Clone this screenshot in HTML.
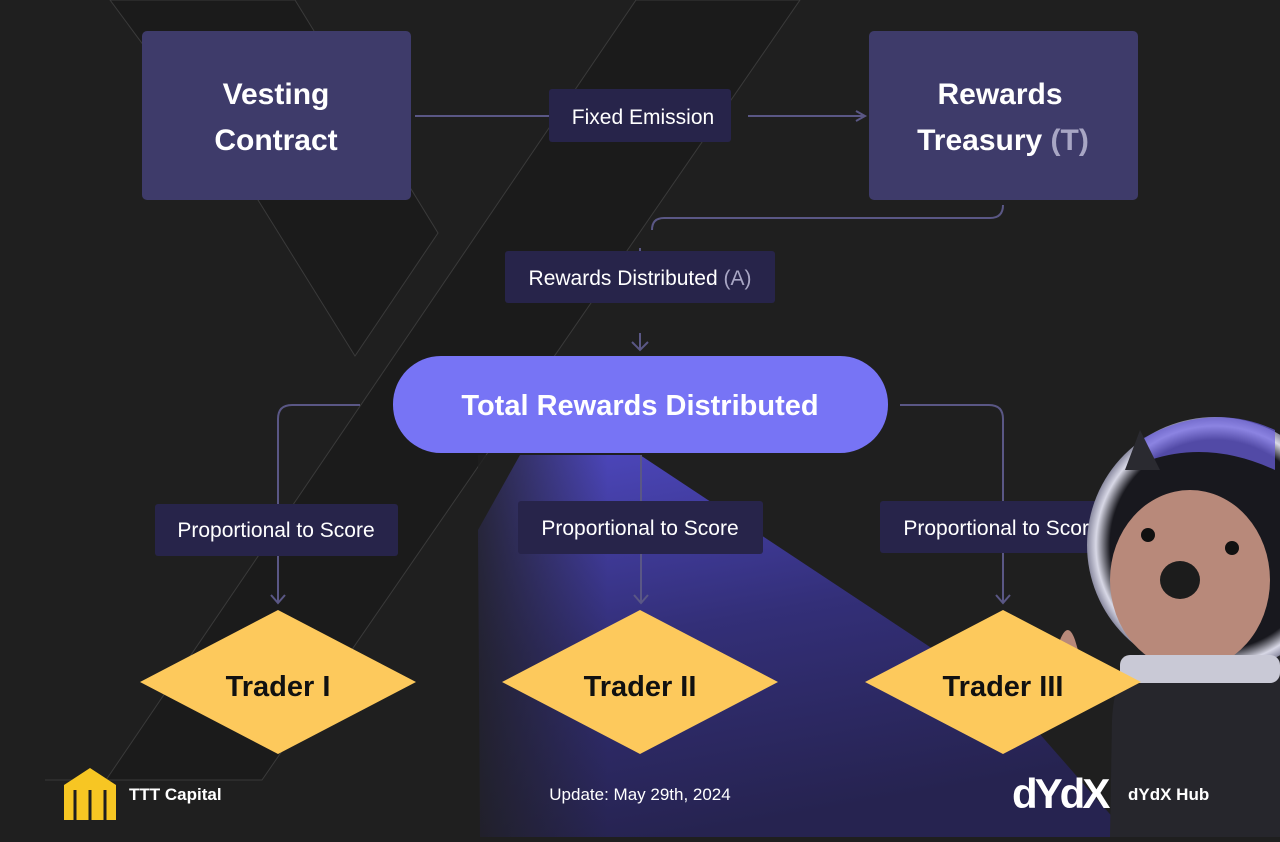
<!DOCTYPE html>
<html><head><meta charset="utf-8"><style>
body{margin:0;background:#1f1f1f;width:1280px;height:837px;overflow:hidden;font-family:"Liberation Sans",sans-serif}
svg text{font-family:"Liberation Sans",sans-serif}
</style></head><body>
<svg width="1280" height="837" viewBox="0 0 1280 837" xmlns="http://www.w3.org/2000/svg">
<defs>
<linearGradient id="spot" x1="0" y1="0" x2="0.3" y2="1">
<stop offset="0" stop-color="#4e48c0"/><stop offset="0.5" stop-color="#332f78"/><stop offset="1" stop-color="#262350"/></linearGradient>
<linearGradient id="fadeL" x1="0" y1="0" x2="1" y2="0"><stop offset="0" stop-color="#1f1f1f" stop-opacity="0.8"/><stop offset="1" stop-color="#1f1f1f" stop-opacity="0"/></linearGradient>
<radialGradient id="helm" cx="0.5" cy="0.5" r="0.5"><stop offset="0.82" stop-color="#18181e"/><stop offset="0.93" stop-color="#d8d8e6"/><stop offset="1" stop-color="#8a8aa0"/></radialGradient>
</defs>
<rect width="1280" height="837" fill="#1f1f1f"/>
<!-- background logo shapes -->
<polygon points="110,0 295,0 438,233 355,356 258,200" fill="#1b1b1b" stroke="#3a3a3a" stroke-width="1"/>
<polygon points="636,0 800,0 262,780 106,780" fill="#1b1b1b" stroke="#3a3a3a" stroke-width="1"/>
<line x1="45" y1="780" x2="262" y2="780" stroke="#3a3a3a"/>
<!-- spotlight -->
<polygon points="478,530 520,455 640,455 1010,700 1130,837 480,837" fill="url(#spot)"/>
<rect x="478" y="455" width="130" height="382" fill="url(#fadeL)"/>
<!-- boxes -->
<rect x="142" y="31" width="269" height="169" rx="5" fill="#3e3b6a"/>
<text x="276" y="104" fill="#fff" font-size="30" font-weight="bold" text-anchor="middle">Vesting</text>
<text x="276" y="150" fill="#fff" font-size="30" font-weight="bold" text-anchor="middle">Contract</text>
<rect x="869" y="31" width="269" height="169" rx="5" fill="#3e3b6a"/>
<text x="1000" y="104" fill="#fff" font-size="30" font-weight="bold" text-anchor="middle">Rewards</text>
<text x="1003" y="150" fill="#fff" font-size="30" font-weight="bold" text-anchor="middle">Treasury <tspan fill="#a8a6c4">(T)</tspan></text>
<!-- connectors -->
<g stroke="#5a5785" stroke-width="2" fill="none">
<line x1="415" y1="116" x2="549" y2="116"/>
<line x1="748" y1="116" x2="864" y2="116"/>
<polyline points="856,111 865,116 856,121"/>
<path d="M1003,205 Q1003,218 990,218 L664,218 Q652,218 652,230"/>
<line x1="640" y1="248" x2="640" y2="252"/>
<line x1="640" y1="333" x2="640" y2="350"/>
<polyline points="632,342 640,350 648,342"/>
<path d="M360,405 L292,405 Q278,405 278,419 L278,504"/>
<line x1="278" y1="556" x2="278" y2="602"/>
<polyline points="271,595 278,603 285,595"/>
<line x1="641" y1="455" x2="641" y2="501"/>
<line x1="641" y1="554" x2="641" y2="602"/>
<polyline points="634,595 641,603 648,595"/>
<path d="M900,405 L989,405 Q1003,405 1003,419 L1003,501"/>
<line x1="1003" y1="553" x2="1003" y2="602"/>
<polyline points="996,595 1003,603 1010,595"/>
</g>
<rect x="549" y="89" width="182" height="53" rx="3" fill="#27244a"/>
<text x="643" y="124" fill="#fff" font-size="21" text-anchor="middle">Fixed Emission</text>
<rect x="505" y="251" width="270" height="52" rx="3" fill="#27244a"/>
<text x="640" y="285" fill="#fff" font-size="21" text-anchor="middle">Rewards Distributed <tspan fill="#a8a6c4">(A)</tspan></text>
<rect x="393" y="356" width="495" height="97" rx="48" fill="#7774f5"/>
<text x="640" y="415" fill="#fff" font-size="29" font-weight="bold" text-anchor="middle">Total Rewards Distributed</text>
<rect x="155" y="504" width="243" height="52" rx="3" fill="#27244a"/>
<text x="276" y="537" fill="#fff" font-size="21" text-anchor="middle">Proportional to Score</text>
<rect x="518" y="501" width="245" height="53" rx="3" fill="#27244a"/>
<text x="640" y="535" fill="#fff" font-size="21" text-anchor="middle">Proportional to Score</text>
<rect x="880" y="501" width="244" height="52" rx="3" fill="#27244a"/>
<text x="1002" y="535" fill="#fff" font-size="21" text-anchor="middle">Proportional to Score</text>
<!-- character -->
<g>
<path d="M1110,837 L1112,720 Q1115,660 1150,650 L1280,640 L1280,837 Z" fill="#26262c"/>
<circle cx="1215" cy="545" r="128" fill="url(#helm)"/>
<path d="M1140,440 Q1210,400 1275,430 L1275,470 Q1210,440 1150,460 Z" fill="#6b5fe0" opacity="0.7"/>
<path d="M1125,470 L1140,430 L1160,470 Z" fill="#2a2a30"/>
<ellipse cx="1190" cy="580" rx="80" ry="90" fill="#b8897a"/>
<ellipse cx="1180" cy="580" rx="20" ry="19" fill="#1c1c1c"/>
<circle cx="1148" cy="535" r="7" fill="#111"/>
<circle cx="1232" cy="548" r="7" fill="#111"/>
<rect x="1120" y="655" width="160" height="28" rx="10" fill="#c9c9d6"/>
<path d="M1060,640 Q1068,620 1075,640 L1090,690 L1070,700 Z" fill="#b8897a"/>
</g>
<!-- diamonds -->
<polygon points="278,610 416,682 278,754 140,682" fill="#fdc95c"/>
<text x="278" y="696" fill="#111" font-size="29" font-weight="bold" text-anchor="middle">Trader I</text>
<polygon points="640,610 778,682 640,754 502,682" fill="#fdc95c"/>
<text x="640" y="696" fill="#111" font-size="29" font-weight="bold" text-anchor="middle">Trader II</text>
<polygon points="1003,610 1141,682 1003,754 865,682" fill="#fdc95c"/>
<text x="1003" y="696" fill="#111" font-size="29" font-weight="bold" text-anchor="middle">Trader III</text>
<!-- footer -->
<polygon points="64,785 90,768 116,785 116,820 64,820" fill="#f7c623"/>
<g stroke="#1f1f1f" stroke-width="3"><line x1="75" y1="790" x2="75" y2="820"/><line x1="90" y1="790" x2="90" y2="820"/><line x1="105" y1="790" x2="105" y2="820"/></g>
<text x="129" y="800" fill="#fff" font-size="17" font-weight="bold">TTT Capital</text>
<text x="640" y="800" fill="#fff" font-size="17" text-anchor="middle">Update: May 29th, 2024</text>
<text x="1012" y="808" fill="#fff" font-size="42" font-weight="bold" letter-spacing="-3">dYdX</text>
<text x="1128" y="800" fill="#fff" font-size="17" font-weight="bold">dYdX Hub</text>
</svg>
</body></html>
